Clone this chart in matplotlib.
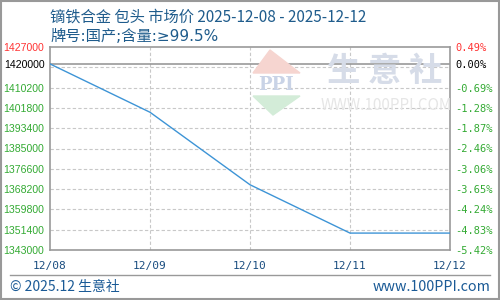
import numpy as np
import matplotlib; matplotlib.use("Agg"); import matplotlib.pyplot as plt
from matplotlib.patches import Polygon, Rectangle

plt.rcParams['font.family'] = ['Noto Sans CJK SC', 'DejaVu Sans']

# data
dates = ["12/08", "12/09", "12/10", "12/11", "12/12"]
prices = [1420000, 1400000, 1370000, 1350000, 1350000]
base = 1420000
left_ticks = [1343000, 1351400, 1359800, 1368200, 1376600, 1385000, 1393400, 1401800, 1410200, 1420000, 1427000]
grid_vals = [1351400, 1359800, 1368200, 1376600, 1385000, 1393400, 1401800, 1410200, 1418600]
title1 = "镝铁合金 包头 市场价 2025-12-08 - 2025-12-12"
title2 = "牌号:国产;含量:≥99.5%"

W, H = 500, 300
fig = plt.figure(figsize=(5, 3), dpi=100)
def px(x, y): return (x / W, 1 - y / H)

ax = fig.add_axes([50 / W, 1 - 250 / H, 400 / W, 203 / H])
ax.set_xlim(0, len(dates) - 1); ax.set_ylim(1343000, 1427000)
for v in grid_vals: ax.axhline(v, color="#c8c8c8", ls=(0, (3, 2)), lw=0.8, zorder=1)
for i in range(1, len(dates) - 1): ax.axvline(i, color="#c8c8c8", ls=(0, (3, 2)), lw=0.8, zorder=1)
ax.axhline(base, color="#999999", lw=1.2, zorder=2)
for s in ax.spines.values(): s.set_color("#999999"); s.set_linewidth(1.2)

# watermark
fig.patches.append(Polygon([px(253, 73), px(300, 73), px(270, 50)], closed=True, transform=fig.transFigure, color="#f6d5d0", zorder=0))
fig.patches.append(Polygon([px(253, 96), px(300, 96), px(273, 115)], closed=True, transform=fig.transFigure, color="#d3ecd8", zorder=0))
fig.text(*px(276, 85), "PPI", color="#c9d3e6", fontsize=13, fontweight="bold", family="DejaVu Serif", ha="center", va="center", zorder=0)
fig.text(*px(385, 72), "生 意 社", color="#d6dce8", fontsize=24, fontweight="bold", ha="center", va="center", zorder=0)
fig.text(*px(386, 106), "WWW.100PPI.COM", color="#e6e6e6", fontsize=11, ha="center", va="center", zorder=0)
ax.set_facecolor("none")

ax.plot(range(len(dates)), prices, color="#3d94d6", lw=1, zorder=3)

ax.set_xticks(range(len(dates))); ax.set_xticklabels(dates, family="DejaVu Sans Mono", fontsize=8, color="#1a4d80")
ax.tick_params(axis="x", length=0, pad=8)
ax.set_yticks(left_ticks)
ax.set_yticklabels([str(v) for v in left_ticks], fontsize=7.6, family="Liberation Sans")
ax.tick_params(axis="y", length=0, pad=4)
cols = ["#ff3333" if v > base else ("#000000" if v == base else "#33aa33") for v in left_ticks]
for lab, c in zip(ax.get_yticklabels(), cols): lab.set_color(c)

ax2 = ax.twinx(); ax2.set_ylim(ax.get_ylim())
ax2.set_yticks(left_ticks)
ax2.set_yticklabels(["%.2f%%" % ((v / base - 1) * 100) for v in left_ticks], family="DejaVu Sans Mono", fontsize=7.5)
ax2.tick_params(axis="y", length=0, pad=4)
for lab, c in zip(ax2.get_yticklabels(), cols): lab.set_color(c)
for s in ax2.spines.values(): s.set_visible(False)

fig.text(*px(50, 17), title1, fontsize=11, color="#1f5c8c", va="center")
fig.text(*px(50, 36), title2, fontsize=11, color="#1f5c8c", va="center", family=["DejaVu Sans", "Noto Sans CJK SC"])
fig.add_artist(plt.Line2D([10 / W, 490 / W], [1 - 275 / H] * 2, transform=fig.transFigure, color="#999999", lw=1))
fig.text(*px(10, 287), "© 2025.12 生意社", fontsize=10, color="#1a5a96", va="center")
fig.text(*px(490, 287), "www.100PPI.com", fontsize=10.3, color="#1a5a96", va="center", ha="right")
fig.patches.append(Rectangle((0.001, 0.002), 0.997, 0.995, transform=fig.transFigure, fill=False, ec="#999999", lw=1.5))
fig.savefig("out.png", dpi=100)
